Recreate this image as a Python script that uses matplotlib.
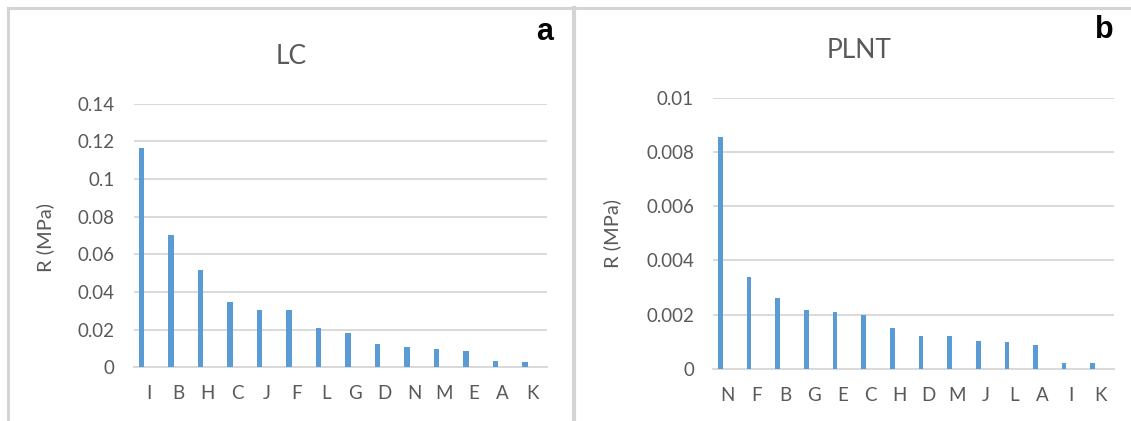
import matplotlib
matplotlib.use("Agg")
import matplotlib.pyplot as plt
from matplotlib.lines import Line2D

# R values per sample, sorted high to low in each panel
lc_names = ["I", "B", "H", "C", "J", "F", "L", "G", "D", "N", "M", "E", "A", "K"]
lc_vals = [0.1165, 0.0701, 0.0515, 0.0348, 0.0304, 0.0304, 0.0207, 0.0181,
           0.0125, 0.0108, 0.0097, 0.0088, 0.0032, 0.0027]
lc_ticks = [0, 0.02, 0.04, 0.06, 0.08, 0.1, 0.12, 0.14]

plnt_names = ["N", "F", "B", "G", "E", "C", "H", "D", "M", "J", "L", "A", "I", "K"]
plnt_vals = [0.00856, 0.00337, 0.0026, 0.00217, 0.00208, 0.0020, 0.00149,
             0.0012, 0.0012, 0.00102, 0.0010, 0.00089, 0.0002, 0.0002]
plnt_ticks = [0, 0.002, 0.004, 0.006, 0.008, 0.01]

plt.rcParams["font.family"] = ["Lato", "DejaVu Sans"]
blue = "#5b9bd5"
txt = "#595959"
grid = "#d9d9d9"

fig = plt.figure(figsize=(11.31, 4.21), dpi=100)


def panel(rect, names, vals, ticks, width):
    ax = fig.add_axes(rect)
    pos = list(range(len(names)))
    ax.bar([p - 0.25 for p in pos], vals, width=width, color=blue, zorder=3)
    ax.set_xlim(-0.5, len(names) - 0.5)
    ax.set_ylim(ticks[0], ticks[-1])
    ax.set_yticks(ticks)
    ax.set_yticklabels([f"{t:g}" for t in ticks])
    ax.set_xticks(pos)
    ax.set_xticklabels(names)
    ax.grid(axis="y", color=grid, lw=1.4, zorder=0)
    ax.set_axisbelow(True)
    for s in ["left", "right", "top"]:
        ax.spines[s].set_visible(False)
    ax.spines["bottom"].set_color(grid)
    ax.spines["bottom"].set_linewidth(1.4)
    ax.tick_params(axis="both", length=0, labelsize=13.5, labelcolor=txt)
    ax.tick_params(axis="y", pad=14)
    ax.tick_params(axis="x", pad=13)
    return ax


ax1 = panel([0.1185, 0.1276, 0.3651, 0.6261], lc_names, lc_vals, lc_ticks, 0.19)
ax2 = panel([0.6307, 0.1242, 0.3545, 0.6437], plnt_names, plnt_vals, plnt_ticks, 0.16)

W, H = 1131, 421
fig.text(291 / W, 1 - 57 / H, "LC", ha="center", va="center", fontsize=19, color=txt)
fig.text(859 / W, 1 - 50 / H, "PLNT", ha="center", va="center", fontsize=19, color=txt)
fig.text(45.5 / W, 1 - 237 / H, "R (MPa)", rotation=90, ha="center", va="center",
         fontsize=14.5, color=txt)
fig.text(612 / W, 1 - 233 / H, "R (MPa)", rotation=90, ha="center", va="center",
         fontsize=14.5, color=txt)
fig.text(545 / W, 1 - 32 / H, "a", ha="center", va="center", fontsize=22,
         fontweight="bold", family="Liberation Sans", color="black")
fig.text(1104 / W, 1 - 30 / H, "b", ha="center", va="center", fontsize=22,
         fontweight="bold", family="Liberation Sans", color="black")

# panel frames
frame = "#d4d4d4"
fig.add_artist(Line2D([7.5 / W, 1], [1 - 7.5 / H] * 2, color=frame, lw=2.2))
fig.add_artist(Line2D([7.5 / W] * 2, [0, 1 - 7.5 / H], color=frame, lw=2.2))
fig.add_artist(Line2D([573.5 / W] * 2, [0, 1 - 7.5 / H], color=frame, lw=3))

fig.savefig("out.png", dpi=100)
